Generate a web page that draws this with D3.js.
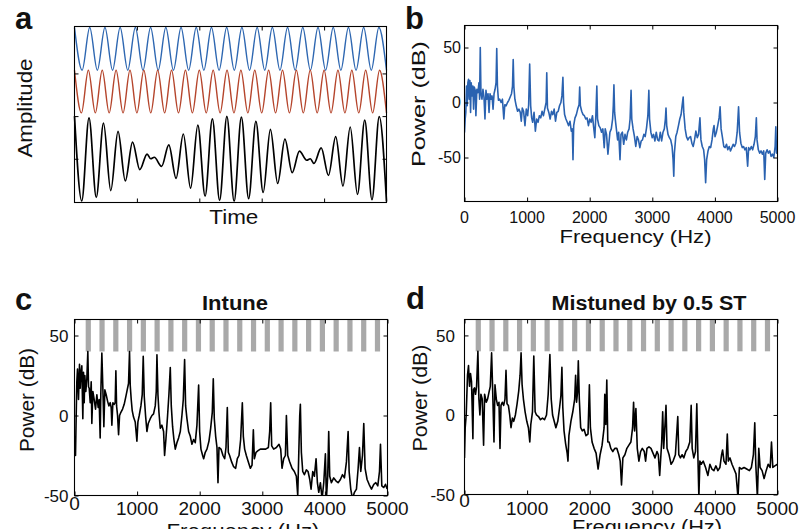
<!DOCTYPE html>
<html><head><meta charset="utf-8">
<script src="https://cdn.jsdelivr.net/npm/d3@7"></script>
<style>body{margin:0;background:#fff}svg{display:block}</style>
</head><body><svg id="chart" width="800" height="529"></svg>
<script>
// ---------------- DATA ----------------
const panelLetters = ["a", "b", "c", "d"];
const panelTitles = ["Intune", "Mistuned by 0.5 ST"];
const timeTicks = [20, 40, 60, 80];
const ampTicks = [0, 2, 4];
const freqTicks = [0, 1000, 2000, 3000, 4000, 5000];
const powerTicks = [-50, 0, 50];
// trace vertical offsets in panel a (amplitude units)
const traceOffsets = {blue: 5.15, red: 3.15, black: 0};

// panel a: extrema (time, amplitude) of the three waveforms
const blueTimes = [0,2.44,4.88,7.32,9.76,12.20,14.63,17.07,19.51,21.95,24.39,26.83,29.27,31.71,34.15,36.59,39.02,41.46,43.90,46.34,48.78,51.22,53.66,56.10,58.54,60.98,63.41,65.85,68.29,70.73,73.17,75.61,78.05,80.49,82.93,85.37,87.80,90.24,92.68,95.12,97.56,100];
const blueValues = [1,-1,1,-1,1,-1,1,-1,1,-1,1,-1,1,-1,1,-1,1,-1,1,-1,1,-1,1,-1,1,-1,1,-1,1,-1,1,-1,1,-1,1,-1,1,-1,1,-1,1,-1];
const redTimes = [0,2.22,4.44,6.67,8.89,11.11,13.33,15.56,17.78,20,22.22,24.44,26.67,28.89,31.11,33.33,35.56,37.78,40,42.22,44.44,46.67,48.89,51.11,53.33,55.56,57.78,60,62.22,64.44,66.67,68.89,71.11,73.33,75.56,77.78,80,82.22,84.44,86.67,88.89,91.11,93.33,95.56,97.78,100];
const redValues = [1,-1,1,-1,1,-1,1,-1,1,-1,1,-1,1,-1,1,-1,1,-1,1,-1,1,-1,1,-1,1,-1,1,-1,1,-1,1,-1,1,-1,1,-1,1,-1,1,-1,1,-1,1,-1,1,-1];
const blackTimes = [0,2.33,4.65,6.98,9.30,11.63,13.95,16.28,18.60,20.93,23.26,24.42,25.58,27.91,30.23,32.56,34.88,37.21,39.53,41.86,44.19,46.51,48.84,51.16,53.49,55.81,58.14,60.47,62.79,65.12,67.44,69.77,72.09,74.42,75.58,76.74,79.07,81.40,83.72,86.05,88.37,90.70,93.02,95.35,97.67,100];
const blackValues = [2,-1.98,1.92,-1.81,1.67,-1.49,1.28,-1.04,0.78,-0.51,0.22,0.0,0.07,-0.36,0.65,-0.92,1.16,-1.38,1.58,-1.75,1.87,-1.95,1.99,-1.99,1.95,-1.87,1.75,-1.58,1.38,-1.16,0.92,-0.65,0.36,-0.07,0.0,-0.22,0.51,-0.78,1.04,-1.28,1.49,-1.67,1.81,-1.92,1.98,-2];

// panel b: power spectrum [Hz, dB]
const spectrumB = [[0,-9],[0,-27],[11,-15],[21,-9],[32,15],[43,-3],[54,18],[64,21],[75,3],[86,20],[97,-9],[107,18],[123,6],[134,15],[145,-6],[156,14],[172,11],[182,-12],[198,12],[215,9],[231,18],[241,3],[252,50],[263,8],[279,3],[295,12],[311,5],[327,-15],[343,11],[359,3],[376,8],[392,-9],[408,8],[424,3],[440,6],[456,-6],[472,8],[488,12],[504,18],[515,49],[526,15],[542,2],[563,3],[585,0],[606,3],[628,-15],[644,-2],[665,-3],[687,0],[708,2],[730,5],[751,8],[767,15],[778,39],[789,14],[805,3],[826,-3],[848,-8],[869,-6],[891,-9],[907,-17],[923,-5],[944,-8],[966,-21],[987,-6],[1009,-12],[1025,-2],[1041,35],[1057,-3],[1073,-14],[1089,-18],[1111,-9],[1132,-26],[1153,-15],[1175,-18],[1196,-12],[1218,-14],[1239,-8],[1261,-12],[1282,-6],[1304,0],[1314,27],[1325,-5],[1347,-9],[1368,-15],[1390,-8],[1411,-11],[1432,-6],[1454,-17],[1475,-9],[1497,-8],[1518,-3],[1540,0],[1556,6],[1572,23],[1583,0],[1599,-11],[1620,-15],[1642,-18],[1663,-21],[1685,-17],[1706,-26],[1722,-24],[1733,-52],[1744,-21],[1765,-14],[1787,-11],[1808,-6],[1830,-2],[1840,14],[1851,-3],[1872,-8],[1894,-11],[1915,-12],[1937,-15],[1958,-14],[1980,-21],[2001,-15],[2023,-18],[2044,-12],[2066,-24],[2082,-32],[2098,-12],[2114,15],[2125,-15],[2146,-21],[2168,-23],[2189,-27],[2210,-24],[2232,-41],[2248,-24],[2269,-29],[2291,-47],[2307,-37],[2323,-27],[2345,-24],[2366,-15],[2377,-3],[2387,16],[2398,-9],[2414,-18],[2430,-26],[2446,-34],[2463,-27],[2484,-52],[2500,-29],[2522,-27],[2543,-38],[2564,-29],[2586,-34],[2607,-27],[2629,-24],[2645,-15],[2661,11],[2672,-15],[2693,-24],[2715,-31],[2736,-40],[2758,-31],[2779,-34],[2801,-41],[2822,-35],[2843,-34],[2865,-29],[2886,-31],[2908,-23],[2929,-12],[2945,11],[2956,-15],[2977,-27],[2999,-32],[3020,-29],[3042,-35],[3063,-27],[3085,-34],[3106,-35],[3128,-27],[3149,-35],[3171,-27],[3192,-24],[3209,-15],[3219,-5],[3230,-21],[3251,-29],[3273,-32],[3294,-34],[3316,-40],[3332,-52],[3343,-67],[3353,-46],[3375,-31],[3396,-27],[3418,-21],[3439,-15],[3460,-11],[3476,-3],[3493,5],[3503,-9],[3525,-24],[3546,-31],[3568,-34],[3589,-32],[3611,-31],[3632,-37],[3653,-40],[3675,-34],[3696,-26],[3718,-32],[3739,-29],[3761,-14],[3777,-34],[3798,-40],[3820,-43],[3836,-52],[3852,-73],[3868,-52],[3890,-44],[3911,-40],[3932,-41],[3954,-34],[3975,-24],[3986,-21],[4002,-31],[4024,-27],[4045,-21],[4067,-14],[4083,-4],[4099,-24],[4121,-32],[4142,-40],[4164,-41],[4185,-38],[4206,-43],[4228,-40],[4249,-44],[4271,-41],[4292,-38],[4313,-40],[4335,-37],[4356,-27],[4378,-4],[4394,-27],[4415,-37],[4437,-41],[4458,-40],[4479,-43],[4501,-41],[4523,-58],[4539,-41],[4560,-43],[4582,-40],[4603,-43],[4625,-38],[4646,-31],[4662,-14],[4673,-34],[4694,-43],[4716,-46],[4737,-44],[4759,-47],[4780,-44],[4796,-70],[4812,-46],[4834,-43],[4855,-46],[4877,-44],[4898,-49],[4920,-47],[4941,-50],[4962,-40],[4973,-22],[4984,-46],[4995,-44]];

// panel c: "Intune" spectrum [Hz, dB]
const spectrumC = [[5,-17],[16,-25],[27,0],[37,21],[48,29],[64,10],[80,32],[91,17],[101,26],[117,31],[133,-2],[144,27],[155,8],[165,25],[181,15],[197,23],[213,40],[224,18],[235,17],[251,8],[267,21],[277,-5],[293,15],[314,10],[336,4],[357,13],[378,5],[394,10],[410,-14],[421,15],[437,39],[453,17],[469,-7],[485,16],[506,13],[528,9],[549,6],[570,8],[586,5],[597,-6],[613,8],[634,7],[650,8],[661,28],[672,6],[688,0],[704,-12],[720,0],[741,2],[768,4],[794,7],[821,12],[842,16],[863,20],[879,40],[890,19],[906,10],[922,3],[943,-1],[970,-4],[997,-16],[1013,-4],[1034,0],[1061,6],[1082,13],[1098,37],[1114,12],[1135,0],[1157,-10],[1178,-5],[1210,-2],[1237,0],[1263,1],[1290,6],[1306,15],[1317,38],[1333,13],[1349,2],[1370,-8],[1396,-6],[1423,-10],[1439,-25],[1460,-15],[1487,0],[1508,13],[1530,30],[1546,6],[1567,-7],[1588,-15],[1610,-21],[1636,-17],[1663,-14],[1690,-10],[1716,0],[1738,10],[1759,35],[1775,6],[1796,-2],[1823,-10],[1850,-13],[1876,-18],[1903,-15],[1929,-17],[1956,-6],[1983,19],[1999,-10],[2020,-21],[2047,-25],[2063,-27],[2089,-23],[2116,-21],[2148,-16],[2175,-8],[2201,2],[2217,23],[2233,-2],[2255,-13],[2276,-20],[2292,-42],[2308,-20],[2340,-21],[2372,-25],[2399,-27],[2420,-20],[2441,5],[2457,-23],[2478,-25],[2510,-29],[2542,-32],[2574,-33],[2601,-27],[2628,-25],[2654,-15],[2681,8],[2697,-13],[2718,-21],[2745,-25],[2777,-29],[2809,-33],[2836,-31],[2857,-9],[2873,-27],[2900,-23],[2932,-22],[2969,-21],[3011,-21],[3054,-21],[3097,-20],[3118,-10],[3134,8],[3150,-19],[3182,-21],[3225,-20],[3267,-18],[3294,-21],[3315,-33],[3342,-27],[3369,-25],[3385,0],[3406,-25],[3438,-29],[3475,-33],[3512,-35],[3544,-38],[3566,-50],[3582,-25],[3598,0],[3608,7],[3624,-23],[3646,-35],[3672,-37],[3704,-34],[3731,-35],[3758,-40],[3779,-46],[3806,-35],[3832,-38],[3859,-27],[3880,-42],[3902,-48],[3928,-42],[3955,-52],[3982,-42],[4008,-24],[4024,-52],[4045,-38],[4061,-10],[4077,-38],[4104,-42],[4141,-39],[4179,-41],[4211,-42],[4248,-40],[4280,-37],[4312,-39],[4344,-29],[4371,-10],[4387,-35],[4413,-46],[4440,-52],[4472,-48],[4504,-46],[4531,-33],[4552,-20],[4573,-35],[4600,-25],[4621,-5],[4642,-33],[4674,-40],[4706,-43],[4744,-46],[4781,-43],[4813,-42],[4845,-44],[4872,-35],[4888,-18],[4909,-44],[4941,-45],[4968,-43],[4994,-46]];

// panel d: "Mistuned by 0.5 ST" spectrum [Hz, dB]
const spectrumD = [[0,-27],[11,-8],[27,0],[48,25],[64,31],[80,18],[96,26],[112,21],[123,4],[134,-15],[144,16],[160,17],[176,13],[193,18],[214,40],[230,10],[246,0],[262,13],[283,10],[305,-19],[321,13],[348,8],[369,10],[390,14],[412,18],[433,39],[449,17],[471,-17],[487,19],[508,10],[529,6],[551,8],[567,-21],[583,6],[604,8],[626,6],[647,10],[663,28],[679,7],[701,6],[722,0],[743,-8],[765,-2],[786,-4],[813,0],[840,7],[866,15],[888,25],[904,39],[920,19],[941,10],[968,2],[995,-4],[1021,-8],[1043,-17],[1059,-6],[1086,2],[1107,37],[1128,2],[1150,0],[1182,-1],[1214,-3],[1246,-2],[1278,-3],[1310,0],[1337,13],[1364,38],[1385,10],[1407,0],[1433,-4],[1460,-8],[1490,-4],[1520,5],[1540,12],[1556,30],[1570,5],[1590,-10],[1615,-18],[1640,-24],[1653,-29],[1668,-13],[1700,-4],[1730,2],[1760,10],[1775,25],[1790,8],[1805,14],[1818,34],[1834,10],[1856,-8],[1882,-10],[1909,-9],[1941,-13],[1973,-12],[1995,19],[2011,-8],[2038,-17],[2070,-21],[2102,-24],[2134,-34],[2166,-25],[2198,-19],[2230,-8],[2241,13],[2257,-6],[2273,22],[2289,-17],[2310,-17],[2337,-21],[2369,-23],[2401,-21],[2433,-21],[2465,-25],[2487,-29],[2508,-44],[2530,-27],[2562,-25],[2594,-21],[2626,-19],[2658,-17],[2685,-8],[2701,8],[2717,-10],[2738,4],[2760,-21],[2786,-29],[2813,-23],[2840,-21],[2872,-23],[2893,-29],[2915,-21],[2947,-20],[2979,-21],[3011,-24],[3043,-27],[3075,-23],[3096,-25],[3118,-38],[3150,-17],[3166,2],[3182,-21],[3203,-6],[3219,6],[3235,-21],[3268,-25],[3300,-31],[3332,-29],[3369,-25],[3407,-1],[3423,-25],[3449,-27],[3476,-25],[3503,-27],[3535,-23],[3567,-21],[3599,-17],[3621,6],[3637,-21],[3663,-27],[3690,-23],[3711,7],[3728,-25],[3744,-52],[3760,-29],[3781,-31],[3813,-29],[3851,-33],[3888,-38],[3920,-31],[3952,-34],[3984,-35],[4016,-32],[4048,-35],[4080,-33],[4107,-25],[4123,-22],[4145,-29],[4177,-31],[4198,-12],[4214,-29],[4241,-27],[4273,-31],[4305,-34],[4337,-37],[4369,-52],[4391,-33],[4423,-34],[4466,-33],[4508,-34],[4551,-35],[4583,-33],[4615,-25],[4637,-5],[4653,-31],[4679,-52],[4701,-21],[4722,-33],[4754,-35],[4786,-40],[4819,-35],[4851,-31],[4883,-33],[4904,-17],[4925,-33],[4957,-32],[5000,-31]];

// harmonic template bars (Hz), drawn from 40 to 60 dB
const harmonicBars = [220,440,660,880,1100,1320,1540,1760,1980,2200,2420,2640,2860,3080,3300,3520,3740,3960,4180,4400,4620,4840];
const barLevels = [40, 60];

// ---------------- DRAWING ----------------
const FONT = '"Liberation Sans", Arial, Helvetica, sans-serif';
const svg = d3.select("#chart");
const defs = svg.append("defs");

function makePanel(id, box, xd, yd) {
  const x = d3.scaleLinear().domain(xd).range([box.l, box.r]);
  const y = d3.scaleLinear().domain(yd).range([box.b, box.t]);
  defs.append("clipPath").attr("id", id).append("rect")
    .attr("x", box.l).attr("y", box.t).attr("width", box.r - box.l).attr("height", box.b - box.t);
  const g = svg.append("g");
  return {x, y, g, box, clip: `url(#${id})`};
}
function drawFrame(p, xt, yt) {
  const {x, y, box, g} = p;
  const axes = [
    [d3.axisBottom(x).tickValues(xt), `translate(0,${box.b})`],
    [d3.axisTop(x).tickValues(xt), `translate(0,${box.t})`],
    [d3.axisLeft(y).tickValues(yt), `translate(${box.l},0)`],
    [d3.axisRight(y).tickValues(yt), `translate(${box.r},0)`]];
  axes.forEach(([ax, tr]) => {
    const a = g.append("g").attr("transform", tr)
      .call(ax.tickSize(-4).tickSizeOuter(0).tickFormat(""));
    a.select(".domain").remove();
    a.selectAll("line").attr("stroke", "#000").attr("stroke-width", 1);
  });
  g.append("rect").attr("x", box.l).attr("y", box.t)
    .attr("width", box.r - box.l).attr("height", box.b - box.t)
    .attr("fill", "none").attr("stroke", "#000").attr("stroke-width", 1.1);
}
function label(str, x, y, o = {}) {
  const t = svg.append("text").attr("x", x).attr("y", y).text(str)
    .attr("font-family", FONT).attr("font-size", o.size || 16)
    .attr("text-anchor", o.anchor || "middle").attr("fill", "#111");
  if (o.weight) t.attr("font-weight", o.weight);
  if (o.len) t.attr("textLength", o.len).attr("lengthAdjust", "spacingAndGlyphs");
  if (o.rotate) t.attr("transform", `rotate(-90,${x},${y})`);
  if (o.dy) t.attr("dy", o.dy);
  return t;
}

// ---- panel a ----
const pa = makePanel("clipA", {l: 74.5, r: 386.5, t: 26.5, b: 202.5}, [0, 100], [-2.05, 6.2]);
const waveLine = (off) => d3.line().x(d => pa.x(d[0])).y(d => pa.y(d[1] + off)).curve(d3.curveMonotoneX);
const waves = [
  {t: blueTimes, v: blueValues, off: traceOffsets.blue, color: "#2e67b1", w: 1.4},
  {t: redTimes, v: redValues, off: traceOffsets.red, color: "#b5452c", w: 1.4},
  {t: blackTimes, v: blackValues, off: traceOffsets.black, color: "#000", w: 1.7}];
waves.forEach(wv => {
  const pts = d3.zip(wv.t, wv.v);
  pa.g.append("path").datum(pts).attr("d", waveLine(wv.off))
    .attr("fill", "none").attr("stroke", wv.color).attr("stroke-width", wv.w);
});
drawFrame(pa, timeTicks, ampTicks);
label("Amplitude", 31.5, 108, {size: 20, rotate: true, len: 99});
label("Time", 233.8, 224, {size: 19.5, len: 49});
label(panelLetters[0], 15, 28.5, {size: 31, anchor: "start", weight: "bold"});

// ---- spectra helper ----
function spectrumPanel(id, box, yd, data, color, width) {
  const p = makePanel(id, box, [0, 5000], yd);
  const line = d3.line().x(d => p.x(d[0])).y(d => p.y(d[1]));
  p.g.append("path").datum(data).attr("d", line).attr("clip-path", p.clip)
    .attr("fill", "none").attr("stroke", color).attr("stroke-width", width)
    .attr("stroke-linejoin", "round");
  return p;
}

// ---- panel b ----
const pb = spectrumPanel("clipB", {l: 464.5, r: 777.5, t: 25.5, b: 201.5}, [-90, 70], spectrumB, "#2a62b0", 1.6);
drawFrame(pb, freqTicks, powerTicks);
powerTicks.forEach(v => label(v, 461, pb.y(v), {size: 16, anchor: "end", dy: "0.36em"}));
freqTicks.forEach(v => label(v, pb.x(v), 222.5, {size: 16}));
label("Power (dB)", 425, 104, {size: 19, rotate: true, len: 126});
label("Frequency (Hz)", 635.5, 243.3, {size: 18.6, len: 152});
label(panelLetters[1], 405, 28.5, {size: 31, anchor: "start", weight: "bold"});

// ---- panels c and d ----
function barPanel(p) {
  p.g.selectAll("rect.bar").data(harmonicBars).join("rect").attr("class", "bar")
    .attr("x", d => p.x(d) - 2.6).attr("width", 5.2)
    .attr("y", p.y(barLevels[1])).attr("height", p.y(barLevels[0]) - p.y(barLevels[1]))
    .attr("fill", "#a9a9a9").attr("clip-path", p.clip);
}
const boxC = {l: 74.5, r: 387.5, t: 319.5, b: 495.5};
const boxD = {l: 464.5, r: 777.5, t: 319.5, b: 494.5};
const pc = makePanel("clipC", boxC, [0, 5000], [-50, 60]);
barPanel(pc);
pc.g.append("path").datum(spectrumC).attr("d", d3.line().x(d => pc.x(d[0])).y(d => pc.y(d[1])))
  .attr("clip-path", pc.clip).attr("fill", "none").attr("stroke", "#000").attr("stroke-width", 1.6).attr("stroke-linejoin", "round");
drawFrame(pc, freqTicks, powerTicks);

const pd = makePanel("clipD", boxD, [0, 5000], [-50, 60]);
barPanel(pd);
pd.g.append("path").datum(spectrumD).attr("d", d3.line().x(d => pd.x(d[0])).y(d => pd.y(d[1])))
  .attr("clip-path", pd.clip).attr("fill", "none").attr("stroke", "#000").attr("stroke-width", 1.6).attr("stroke-linejoin", "round");
drawFrame(pd, freqTicks, powerTicks);

// labels c
powerTicks.forEach(v => label(v, 68.5, pc.y(v), {size: 17, anchor: "end", dy: "0.36em"}));
freqTicks.forEach(v => label(v, pc.x(v), v === 0 ? 510 : 515, {size: 19}));
label("Power (dB)", 34, 400, {size: 20, rotate: true, len: 104});
label("Frequency (Hz)", 243, 538, {size: 19.5, len: 153});
label(panelTitles[0], 235, 310, {size: 20, weight: "bold", len: 66});
label(panelLetters[2], 15, 310, {size: 31, anchor: "start", weight: "bold"});

// labels d
powerTicks.forEach(v => label(v, 455, pd.y(v), {size: 17, anchor: "end", dy: "0.36em"}));
freqTicks.forEach(v => label(v, pd.x(v), v === 0 ? 507 : 515, {size: 19}));
label("Power (dB)", 426.5, 398, {size: 20, rotate: true, len: 107});
label("Frequency (Hz)", 647, 533.5, {size: 19.5, len: 150});
label(panelTitles[1], 649, 310, {size: 20, weight: "bold", len: 195});
label(panelLetters[3], 406, 309, {size: 31, anchor: "start", weight: "bold"});
</script>
</body></html>
